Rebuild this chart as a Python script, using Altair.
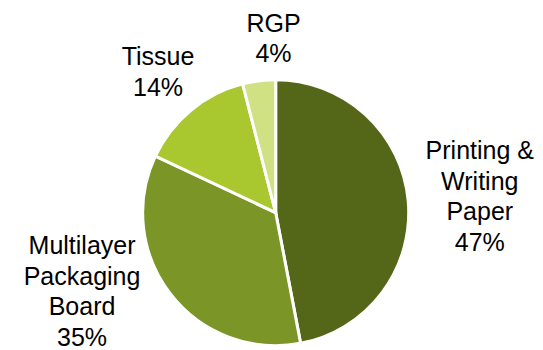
import math
import altair as alt
import pandas as pd

# Market share by paper grade
categories = ["Printing &\nWriting\nPaper", "Multilayer\nPackaging\nBoard", "Tissue", "RGP"]
shares = [47, 35, 14, 4]
slice_colors = ["#546719", "#7b9527", "#a9c830", "#cfe183"]

df = pd.DataFrame({"category": categories, "share": shares, "idx": list(range(len(categories)))})

CX, CY, OUTER = 275.7, 212.7, 133
LINE_H = 30.5
theta_scale = alt.Scale(domain=[0, 100], range=[0, 2 * math.pi])

base = (
    alt.Chart(df)
    .transform_window(cum="sum(share)", sort=[alt.SortField("idx", order="ascending")])
    .transform_calculate(
        mid="datum.cum - datum.share / 2",
        label="datum.category + '\\n' + datum.share + '%'",
    )
)

arcs = base.mark_arc(outerRadius=OUTER, stroke="white", strokeWidth=3).encode(
    theta=alt.Theta("share:Q", stack=True, scale=theta_scale),
    order=alt.Order("idx:Q"),
    color=alt.Color(
        "category:N",
        scale=alt.Scale(domain=categories, range=slice_colors),
        legend=None,
    ),
    x=alt.value(CX),
    y=alt.value(CY),
)

# label placement around the pie: (radius from centre, dx, dy of block centre)
label_place = {
    0: (205, 0, 3.6),
    1: (209, -28.5, -48.8),
    2: (183, -1, 1),
    3: (174, 19.6, -1),
}

labels = []
for i, (rad, ddx, ddy) in label_place.items():
    n_lines = categories[i].count("\n") + 2
    labels.append(
        base.transform_filter(f"datum.idx == {i}")
        .mark_text(
            radius=rad,
            dx=ddx,
            # first line sits on the anchor, so lift the block to centre it
            dy=ddy - (n_lines - 1) * LINE_H / 2,
            lineBreak="\n",
            lineHeight=LINE_H,
            font="Liberation Sans",
            fontSize=25,
            align="center",
            baseline="middle",
            color="#000000",
        )
        .encode(
            theta=alt.Theta("mid:Q", stack=False, scale=theta_scale),
            text="label:N",
            x=alt.value(CX),
            y=alt.value(CY),
        )
    )

chart = (
    alt.layer(arcs, *labels)
    .properties(
        width=543,
        height=350,
        padding=0,
        autosize=alt.AutoSizeParams(type="none"),
        background="white",
    )
    .configure_view(stroke=None)
)

chart.save("out.html", embed_options={"renderer": "svg", "actions": False})
